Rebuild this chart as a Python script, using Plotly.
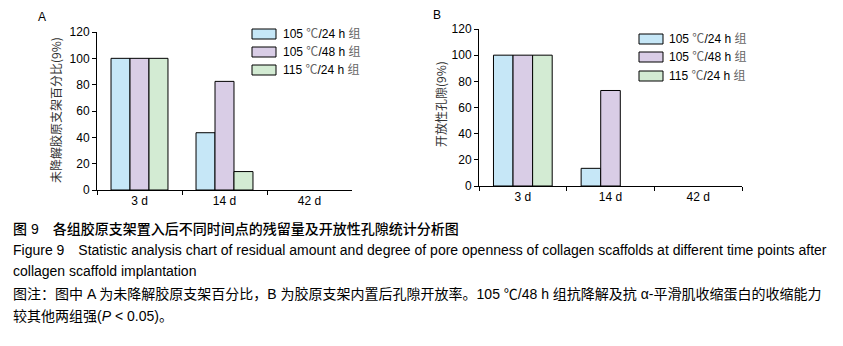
import plotly.graph_objects as go

W, H = 843, 346

categories = ["3 d", "14 d", "42 d"]
series_names = ["105 ℃/24 h 组", "105 ℃/48 h 组", "115 ℃/24 h 组"]
colors = ["#c6e7f7", "#d9cde6", "#d3ebd3"]

residual_A = [
    [100, 43.5, 0],
    [100, 82.5, 0],
    [100, 14, 0],
]
openness_B = [
    [100, 13.5, 0],
    [100, 73, 0],
    [100, 0, 0],
]
y_ticks = [0, 20, 40, 60, 80, 100, 120]

title_A = "未降解胶原支架百分比(9%)"
title_B = "开放性孔隙(9%)"

caption_lines = [
    "图 9　各组胶原支架置入后不同时间点的残留量及开放性孔隙统计分析图",
    "Figure 9　Statistic analysis chart of residual amount and degree of pore openness of collagen scaffolds at different time points after",
    "collagen scaffold implantation",
    "图注：图中 A 为未降解胶原支架百分比，B 为胶原支架内置后孔隙开放率。105 ℃/48 h 组抗降解及抗 α-平滑肌收缩蛋白的收缩能力",
    "较其他两组强(<i>P</i> < 0.05)。",
]
caption_y = [229, 250, 271, 294, 316]


def px(x):
    return x / W


def py(y):
    return 1 - y / H


fig = go.Figure()


def outline_widths(vals):
    return [0 if v == 0 else 1 for v in vals]


for i, name in enumerate(series_names):
    fig.add_trace(go.Bar(x=categories, y=residual_A[i], name=name,
                         marker=dict(color=colors[i],
                                     line=dict(color="black", width=outline_widths(residual_A[i]))),
                         xaxis="x", yaxis="y", showlegend=False))
for i, name in enumerate(series_names):
    fig.add_trace(go.Bar(x=categories, y=openness_B[i], name=name,
                         marker=dict(color=colors[i],
                                     line=dict(color="black", width=outline_widths(openness_B[i]))),
                         xaxis="x2", yaxis="y2", showlegend=False))

axis_font = dict(family="Liberation Sans, Arial, sans-serif", size=12, color="black")

xcommon = dict(type="category", range=[-0.5, 2.5], tickson="boundaries",
               showline=True, linecolor="black", linewidth=1,
               ticks="outside", ticklen=4, tickcolor="black",
               tickfont=axis_font, showgrid=False, zeroline=False, fixedrange=True,
               automargin=False)
ycommon = dict(range=[0, 120], tickvals=y_ticks, showline=True, linecolor="black",
               linewidth=1, ticks="outside", ticklen=4, tickcolor="black",
               tickfont=axis_font, showgrid=False, zeroline=False, fixedrange=True,
               automargin=False)

fig.update_layout(
    width=W, height=H,
    margin=dict(l=0, r=0, t=0, b=0, pad=0),
    paper_bgcolor="white", plot_bgcolor="white",
    barmode="group", bargap=0.33, bargroupgap=0,
    xaxis=dict(domain=[px(97), px(352)], anchor="y", **xcommon),
    yaxis=dict(domain=[py(190), py(32)], anchor="x", **ycommon),
    xaxis2=dict(domain=[px(479), px(742)], anchor="y2", **xcommon),
    yaxis2=dict(domain=[py(186), py(29)], anchor="x2", **ycommon),
    showlegend=False,
)

cjk = "Noto Sans CJK SC, Liberation Sans, sans-serif"
mixed = "Liberation Sans, Noto Sans CJK SC, sans-serif"
ann = []
shapes = []

# panel letters
ann.append(dict(x=px(42), y=py(17), text="A", showarrow=False, xanchor="center", yanchor="middle",
                font=dict(family="Liberation Sans, Arial", size=12, color="black")))
ann.append(dict(x=px(437), y=py(15), text="B", showarrow=False, xanchor="center", yanchor="middle",
                font=dict(family="Liberation Sans, Arial", size=12, color="black")))

# y titles
ann.append(dict(x=px(55), y=py(110), text=title_A, textangle=-90, showarrow=False,
                xanchor="center", yanchor="middle", font=dict(family=cjk, size=12, color="#333333")))
ann.append(dict(x=px(440), y=py(104), text=title_B, textangle=-90, showarrow=False,
                xanchor="center", yanchor="middle", font=dict(family=cjk, size=12, color="#333333")))


def legend_label(name):
    num, rest = name.split(" ", 1)
    temp, grp = rest.rsplit(" ", 1)
    deg, tail = temp.split("/", 1)
    return (f"{num} <span style='color:#666666'>{deg}</span>/{tail} "
            f"<span style='color:#666666'>{grp}</span>")


legends = [
    dict(x0=252, x1=276, text_x=281, ys=[34, 52, 70]),
    dict(x0=639, x1=663, text_x=667, ys=[39, 57, 76]),
]
for lg in legends:
    for i, name in enumerate(series_names):
        yc = lg["ys"][i]
        shapes.append(dict(type="rect", xref="paper", yref="paper",
                           x0=px(lg["x0"]), x1=px(lg["x1"]), y0=py(yc + 5), y1=py(yc - 5),
                           fillcolor=colors[i], line=dict(color="black", width=1)))
        ann.append(dict(x=px(lg["text_x"]), y=py(yc), text=legend_label(name), showarrow=False,
                        xanchor="left", yanchor="middle",
                        font=dict(family=mixed, size=12, color="black")))

for k, (line, yc) in enumerate(zip(caption_lines, caption_y)):
    f = dict(family=mixed, size=14, color="black")
    if k == 0:
        f["weight"] = 500
    ann.append(dict(x=px(11), y=py(yc), text=line, showarrow=False, xanchor="left", yanchor="middle",
                    font=f))

fig.update_layout(annotations=ann, shapes=shapes)
for a in fig.layout.annotations:
    a.xref = "paper"
    a.yref = "paper"

fig.write_html("out.html", config={"displayModeBar": False},
               post_script="document.body.style.margin='0';document.body.style.overflow='hidden';")
